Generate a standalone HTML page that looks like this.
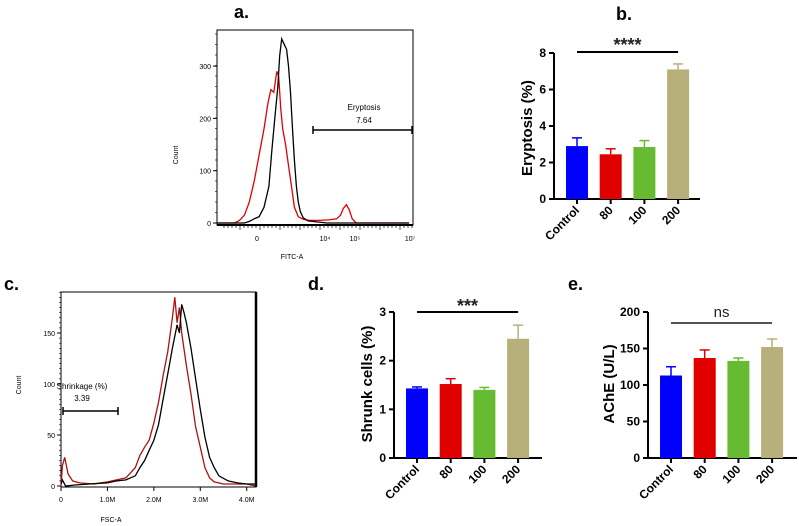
<!DOCTYPE html>
<html><head><meta charset="utf-8"><style>
body{margin:0;background:#fff;}
svg{display:block;font-family:"Liberation Sans",Arial,sans-serif;}
</style></head><body>
<svg id="fig" width="799" height="526" viewBox="0 0 799 526"></svg>
<script>
// ---------- data ----------
const barCategories = ["Control","80","100","200"];
const barColors = ["#0000ff","#e00000","#66bb33","#b8b07a"];
const eryptosisValues = [2.9,2.45,2.85,7.1];
const eryptosisErrors = [0.45,0.3,0.35,0.3];
const eryptosisTicks = [0,2,4,6,8];
const shrunkValues = [1.43,1.52,1.4,2.45];
const shrunkErrors = [0.03,0.11,0.05,0.28];
const shrunkTicks = [0,1,2,3];
const acheValues = [113,137,133,152];
const acheErrors = [12,11,4,11];
const acheTicks = [0,50,100,150,200];
// panel a histogram: channel (0-1000) vs count
const fitcBlackX = [0,140,165,190,215,240,265,280,295,310,320,330,345,355,365,375,385,395,405,415,425,440,465,515,560,650,800,980];
const fitcBlackY = [0,0,3,8,12,30,70,140,200,260,320,352,340,332,300,250,180,120,70,40,22,10,4,2,0,0,0,0];
const fitcRedX = [0,90,115,140,165,190,215,240,260,275,290,305,315,325,335,350,365,380,395,415,440,470,520,570,610,630,645,660,675,690,710,760,980];
const fitcRedY = [0,0,5,15,40,80,130,180,230,255,250,290,280,220,180,150,110,70,30,12,7,5,5,6,8,15,28,35,25,8,0,0,0];
const fitcTicks = [0,100,200,300];
// panel c histogram: FSC (M) vs count
const fscBlackX = [0,0.03,0.1,0.3,0.6,1.0,1.2,1.4,1.6,1.7,1.8,1.9,2.0,2.1,2.2,2.3,2.4,2.5,2.55,2.6,2.65,2.7,2.8,2.9,3.0,3.1,3.2,3.3,3.4,3.6,3.8,4.0,4.2];
const fscBlackY = [2,6,0,1,2,3,5,6,10,18,25,35,45,60,85,110,135,158,150,178,170,160,135,105,75,48,28,18,10,5,3,2,2];
const fscRedX = [0,0.03,0.08,0.15,0.25,0.4,0.7,1.0,1.2,1.4,1.6,1.7,1.8,1.9,2.0,2.1,2.2,2.3,2.4,2.45,2.5,2.55,2.6,2.7,2.8,2.9,3.0,3.1,3.2,3.3,3.5,4.0,4.2];
const fscRedY = [0,20,28,12,5,3,2,4,6,8,18,30,38,45,62,82,108,132,165,185,160,175,150,118,90,58,38,18,8,4,2,2,0];
const fscTicks = [0,50,100,150];
const fscXTicks = [0,1,2,3,4];
const fscXLabels = ["0","1.0M","2.0M","3.0M","4.0M"];

const NS="http://www.w3.org/2000/svg";
const svg=document.getElementById('fig');
function mk(tag,attrs,parent,txt){const e=document.createElementNS(NS,tag);for(const k in attrs)e.setAttribute(k,attrs[k]);if(txt!==undefined)e.textContent=txt;(parent||svg).appendChild(e);return e;}

// panel labels
[["a.",234,18],["b.",616,20],["c.",4,290],["d.",308,290],["e.",568,290]].forEach(p=>{
  const t=mk('text',{x:p[1],y:p[2],'font-size':18,'font-weight':'bold'},svg,p[0]);
  
  
});

// ---------- bar chart ----------
function barChart(name,o,vals,errs,ticks){
  const g=mk('g',{});
  
  
  const ymax=ticks[ticks.length-1];
  const ys=v=>o.y0-(v/ymax)*(o.y0-o.yTop);
  const xs=i=>o.x1+i*o.step;
  mk('line',{x1:o.ax,y1:o.yTop,x2:o.ax,y2:o.y0+1,stroke:'#000','stroke-width':2},g);
  mk('line',{x1:o.ax,y1:o.y0,x2:o.xEnd,y2:o.y0,stroke:'#000','stroke-width':2},g);
  ticks.forEach(t=>{
    mk('line',{x1:o.ax-5,y1:ys(t),x2:o.ax,y2:ys(t),stroke:'#000','stroke-width':2},g);
    const tl=mk('text',{x:o.ax-8,y:ys(t)+4,'font-size':12,'font-weight':'bold','text-anchor':'end'},g,t);
    
    
  });
  vals.forEach((v,i)=>{
    const cx=xs(i);
    const eTop=ys(v+errs[i]);
    mk('line',{x1:cx,y1:ys(v),x2:cx,y2:eTop,stroke:barColors[i],'stroke-width':1.5},g);
    mk('line',{x1:cx-5,y1:eTop,x2:cx+5,y2:eTop,stroke:barColors[i],'stroke-width':1.5},g);
    const r=mk('rect',{x:cx-11,y:ys(v),width:22,height:o.y0-ys(v),fill:barColors[i]},g);
    
    
    mk('line',{x1:cx,y1:o.y0,x2:cx,y2:o.y0+5,stroke:'#000','stroke-width':2},g);
    const tl=mk('text',{x:cx+3,y:o.y0+12,'font-size':12,'font-weight':'bold','text-anchor':'end',transform:`rotate(-45 ${cx+3} ${o.y0+12})`},g,barCategories[i]);
    
    
  });
  const yt=mk('text',{x:o.labX,y:o.labY,'font-size':15,'font-weight':'bold','text-anchor':'middle',transform:`rotate(-90 ${o.labX} ${o.labY})`},g,o.label);
  
  
  mk('line',{x1:xs(0),y1:o.sigY,x2:xs(3),y2:o.sigY,stroke:o.sigColor,'stroke-width':2},g);
  const st=mk('text',{x:(xs(0)+xs(3))/2,y:o.sigY-o.sigOff,'font-size':o.sigSize,'font-weight':o.sigBold,'text-anchor':'middle',fill:'#222'},g,o.sig);
  
  
}
barChart('eryptosis-bar-chart',{ax:554,y0:199,yTop:53,x1:577,step:33.7,xEnd:700,label:'Eryptosis (%)',labX:532,labY:128,sigY:52,sig:'****',sigOff:1,sigSize:18,sigBold:'bold',sigColor:'#000'},eryptosisValues,eryptosisErrors,eryptosisTicks);
barChart('shrunk-cells-bar-chart',{ax:394,y0:458,yTop:312,x1:417,step:33.7,xEnd:542,label:'Shrunk cells (%)',labX:372,labY:384,sigY:312,sig:'***',sigOff:0,sigSize:18,sigBold:'bold',sigColor:'#000'},shrunkValues,shrunkErrors,shrunkTicks);
barChart('ache-bar-chart',{ax:648,y0:458,yTop:312,x1:671,step:33.7,xEnd:797,label:'AChE (U/L)',labX:614,labY:384,sigY:323,sig:'ns',sigOff:6,sigSize:15,sigBold:'normal',sigColor:'#555'},acheValues,acheErrors,acheTicks);

// ---------- histograms ----------
function hist(name,o,series,yt){
  const g=mk('g',{});
  
  
  const xs=v=>o.x0+(v-o.xMin)/(o.xMax-o.xMin)*(o.x1-o.x0);
  const ys=v=>o.yZero-v*o.yScale;
  mk('rect',{x:o.x0,y:o.yTop,width:o.x1-o.x0,height:o.yBot-o.yTop,fill:'none',stroke:'#000','stroke-width':1},g);
  yt.forEach(t=>{
    mk('line',{x1:o.x0-4,y1:ys(t),x2:o.x0,y2:ys(t),stroke:'#000'},g);
    const l=mk('text',{x:o.x0-6,y:ys(t)+3,'font-size':7,'text-anchor':'end'},g,t);
    
    
  });
  for(let y=o.yZero;y>o.yTop;y-=o.minor) mk('line',{x1:o.x0-2,y1:y,x2:o.x0,y2:y,stroke:'#000','stroke-width':0.6},g);
  series.forEach(s=>{
    const pts=s.x.map((v,i)=>xs(v).toFixed(1)+','+ys(s.y[i]).toFixed(1)).join(' ');
    const p=mk('polyline',{points:pts,fill:'none',stroke:s.c,'stroke-width':1.3},g);
    
    
  });
  return {g,xs,ys};
}
const ha=hist('fitc-histogram',{x0:217,x1:413,yTop:30,yBot:225,yZero:223,yScale:0.523,xMin:0,xMax:1000,minor:10.5},
  [{x:fitcRedX,y:fitcRedY,c:'#e00000',n:'fitc-red-curve'},{x:fitcBlackX,y:fitcBlackY,c:'#000',n:'fitc-black-curve'}],fitcTicks);
mk('line',{x1:217,y1:225,x2:413,y2:225,stroke:'#000','stroke-width':2},ha.g);
for(let x=224;x<413;x+=4) mk('line',{x1:x,y1:225,x2:x,y2:x%20<4?230:228,stroke:'#000','stroke-width':0.7},ha.g);
[["0",257],["10\u2074",325],["10\u2075",355],["10\u2077",410]].forEach(t=>{const l=mk('text',{x:t[1],y:241,'font-size':7,'text-anchor':'middle'},ha.g,t[0]);});
let tt=mk('text',{x:292,y:259,'font-size':7,'text-anchor':'middle'},ha.g,'FITC-A');
tt=mk('text',{x:178,y:155,'font-size':7,'text-anchor':'middle',transform:'rotate(-90 178 155)'},ha.g,'Count');
tt=mk('text',{x:364,y:110,'font-size':8,'text-anchor':'middle'},ha.g,'Eryptosis');
mk('text',{x:364,y:123,'font-size':8,'text-anchor':'middle'},ha.g,'7.64');
mk('path',{d:'M313,130H412M313,126V134M412,126V134',stroke:'#000','stroke-width':1.5,fill:'none'},ha.g);

const hc=hist('fsc-histogram',{x0:61,x1:256,yTop:292,yBot:487,yZero:486,yScale:1.02,xMin:0,xMax:4.2,minor:5.1},
  [{x:fscRedX,y:fscRedY,c:'#b01010',n:'fsc-red-curve'},{x:fscBlackX,y:fscBlackY,c:'#000',n:'fsc-black-curve'}],fscTicks);
mk('line',{x1:256,y1:292,x2:256,y2:487,stroke:'#000','stroke-width':2.5},hc.g);
fscXTicks.forEach((t,i)=>{
  mk('line',{x1:hc.xs(t),y1:487,x2:hc.xs(t),y2:491,stroke:'#000'},hc.g);
  const l=mk('text',{x:hc.xs(t),y:502,'font-size':7,'text-anchor':'middle'},hc.g,fscXLabels[i]);
  
});
tt=mk('text',{x:111,y:522,'font-size':7,'text-anchor':'middle'},hc.g,'FSC-A');
tt=mk('text',{x:21,y:385,'font-size':7,'text-anchor':'middle',transform:'rotate(-90 21 385)'},hc.g,'Count');
tt=mk('text',{x:82,y:389,'font-size':8,'text-anchor':'middle'},hc.g,'Shrinkage (%)');
mk('text',{x:82,y:401,'font-size':8,'text-anchor':'middle'},hc.g,'3.39');
mk('path',{d:'M63,411H118M63,407V415M118,407V415',stroke:'#000','stroke-width':1.5,fill:'none'},hc.g);
</script>
</body></html>
